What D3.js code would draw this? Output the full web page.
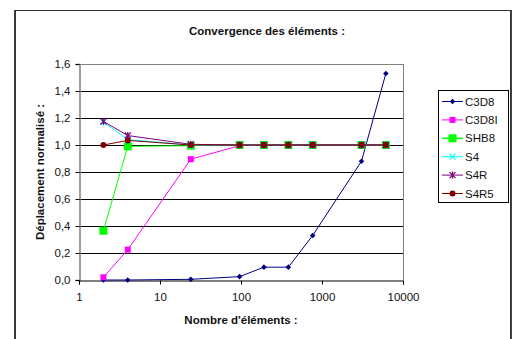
<!DOCTYPE html>
<html>
<head>
<meta charset="utf-8">
<script src="https://cdn.jsdelivr.net/npm/d3@7"></script>
<style>
  body { margin: 0; background: #fff; }
  text { font-family: "Liberation Sans", Arial, sans-serif; fill: #111; }
</style>
</head>
<body>
<div id="graph"></div>
<script>
// Convergence chart data
var nElements = [2, 4, 24, 96, 192, 384, 768, 3072, 6144];
var c3d8  = [0, 0, 0.005, 0.025, 0.095, 0.095, 0.33, 0.88, 1.53];
var c3d8i = [0.02, 0.225, 0.895, 0.995, 1, 1, 1, 1, 1];
var shb8  = [0.365, 0.99, 0.995, 1, 1, 1, 1, 1, 1];
var s4    = [1.17, 1.04, 1.0, 1, 1, 1, 1, 1, 1];
var s4r   = [1.175, 1.07, 1.005, 1, 1, 1, 1, 1, 1];
var s4r5  = [1.0, 1.034, 1.0, 1, 1, 1, 1, 1, 1];
var xTicks = [1, 10, 100, 1000, 10000];
var yTicks = [0, 0.2, 0.4, 0.6, 0.8, 1.0, 1.2, 1.4, 1.6];

var series = [
	{name: "C3D8",  values: c3d8,  color: "#000080", marker: "diamond"},
	{name: "C3D8I", values: c3d8i, color: "#ff00ff", marker: "square"},
	{name: "SHB8",  values: shb8,  color: "#00ff00", marker: "bigsquare"},
	{name: "S4",    values: s4,    color: "#00ffff", marker: "cross"},
	{name: "S4R",   values: s4r,   color: "#800080", marker: "star"},
	{name: "S4R5",  values: s4r5,  color: "#800000", marker: "circle"}
];

var margin = {top: 64, left: 79};
var width = 324;
var height = 216;

var svg = d3.select("#graph").append("svg")
	.attr("width", 512)
	.attr("height", 339);

// outer frame
svg.append("rect")
	.attr("x", 15.5).attr("y", 10.5)
	.attr("width", 495).attr("height", 340)
	.attr("fill", "white")
	.attr("stroke", "#333").attr("stroke-width", 1);
svg.append("line").attr("x1", 14.5).attr("x2", 14.5).attr("y1", 10).attr("y2", 339)
	.style("stroke", "#444");
svg.append("line").attr("x1", 511.5).attr("x2", 511.5).attr("y1", 10).attr("y2", 339)
	.style("stroke", "#444");

var scale_x = d3.scaleLog()
	.domain([1, 10000])
	.range([0, width]);
var scale_y = d3.scaleLinear()
	.domain([0, 1.6])
	.range([height, 0]);

var g = svg.append("g")
	.attr("transform", "translate(" + margin.left + "," + margin.top + ")");

// grid lines
g.selectAll(".grid")
	.data(yTicks.slice(1, -1))
	.enter().append("line")
	.attr("x1", 0).attr("x2", width)
	.attr("y1", function(d) { return Math.round(scale_y(d)) + 0.5; })
	.attr("y2", function(d) { return Math.round(scale_y(d)) + 0.5; })
	.style("stroke", "#000");

// plot area border (top and right)
g.append("line").attr("x1", 0).attr("x2", width).attr("y1", 0.5).attr("y2", 0.5)
	.style("stroke", "#808080");
g.append("line").attr("x1", width + 0.5).attr("x2", width + 0.5).attr("y1", 0).attr("y2", height)
	.style("stroke", "#808080");

// y axis
var yAxis = g.append("g")
	.attr("transform", "translate(0.5,0)")
	.call(d3.axisLeft(scale_y).tickValues(yTicks).tickSize(4).tickPadding(5)
		.tickFormat(function(d) { return d3.format(".1f")(d).replace(".", ","); }));
yAxis.select(".domain").style("stroke", "#808080").style("stroke-width", 1.5);
yAxis.selectAll("line").style("stroke", "#000");
yAxis.selectAll("text").style("font-size", "11.5px").style("fill", "#111")
	.style("font-family", "Liberation Sans, Arial, sans-serif");

// x axis
var xAxis = g.append("g")
	.attr("transform", "translate(0," + (height + 0.5) + ")")
	.call(d3.axisBottom(scale_x).tickValues(xTicks).tickSize(4).tickPadding(8)
		.tickFormat(d3.format("d")));
xAxis.select(".domain").style("stroke", "#000");
xAxis.selectAll("text").style("font-size", "11.5px").style("fill", "#111")
	.style("font-family", "Liberation Sans, Arial, sans-serif");

// lines
var line = d3.line()
	.x(function(d, i) { return scale_x(nElements[i]); })
	.y(function(d) { return scale_y(d); });

function drawMarker(sel, type, color) {
	if (type === "diamond") {
		sel.append("path").attr("d", "M0,-2.8L2.8,0L0,2.8L-2.8,0Z").attr("fill", color);
	} else if (type === "square") {
		sel.append("rect").attr("x", -3).attr("y", -3).attr("width", 6).attr("height", 6).attr("fill", color);
	} else if (type === "bigsquare") {
		sel.append("rect").attr("x", -4).attr("y", -4).attr("width", 8).attr("height", 8).attr("fill", color);
	} else if (type === "cross") {
		sel.append("path").attr("d", "M-3,-3L3,3M-3,3L3,-3").attr("stroke", color).attr("stroke-width", 1.2);
	} else if (type === "star") {
		sel.append("path").attr("d", "M-3,-3L3,3M-3,3L3,-3M0,-3.5L0,3.5").attr("stroke", color).attr("stroke-width", 1.3);
	} else if (type === "circle") {
		sel.append("circle").attr("r", 3).attr("fill", color);
	}
}

series.forEach(function(s) {
	g.append("path")
		.attr("fill", "none")
		.attr("stroke", s.color)
		.attr("stroke-width", 1)
		.attr("d", line(s.values));
	s.values.forEach(function(v, i) {
		var m = g.append("g")
			.attr("transform", "translate(" + scale_x(nElements[i]) + "," + scale_y(v) + ")");
		drawMarker(m, s.marker, s.color);
	});
});

// titles
svg.append("text")
	.attr("x", 267).attr("y", 35)
	.style("text-anchor", "middle")
	.style("font-size", "11.5px").style("font-weight", "bold")
	.text("Convergence des éléments :");

svg.append("text")
	.attr("x", 241).attr("y", 324)
	.style("text-anchor", "middle")
	.style("font-size", "11.5px").style("font-weight", "bold")
	.text("Nombre d'éléments :");

svg.append("text")
	.attr("transform", "translate(44,172) rotate(-90)")
	.style("text-anchor", "middle")
	.style("font-size", "11.5px").style("font-weight", "bold")
	.text("Déplacement normalisé :");

// legend
var legend = svg.append("g").attr("transform", "translate(438,90)");
legend.append("rect")
	.attr("x", 0.5).attr("y", 0.5)
	.attr("width", 70).attr("height", 112)
	.attr("fill", "white").attr("stroke", "#000");
series.forEach(function(s, i) {
	var y = 11.5 + i * 18.4;
	legend.append("line")
		.attr("x1", 4).attr("x2", 25)
		.attr("y1", y).attr("y2", y)
		.style("stroke", s.color)
		.style("stroke-width", s.marker === "bigsquare" ? 1.5 : 1);
	drawMarker(legend.append("g").attr("transform", "translate(14.5," + y + ")"), s.marker, s.color);
	legend.append("text")
		.attr("x", 27).attr("y", y + 4)
		.style("font-size", "11.5px")
		.text(s.name);
});
</script>
</body>
</html>
